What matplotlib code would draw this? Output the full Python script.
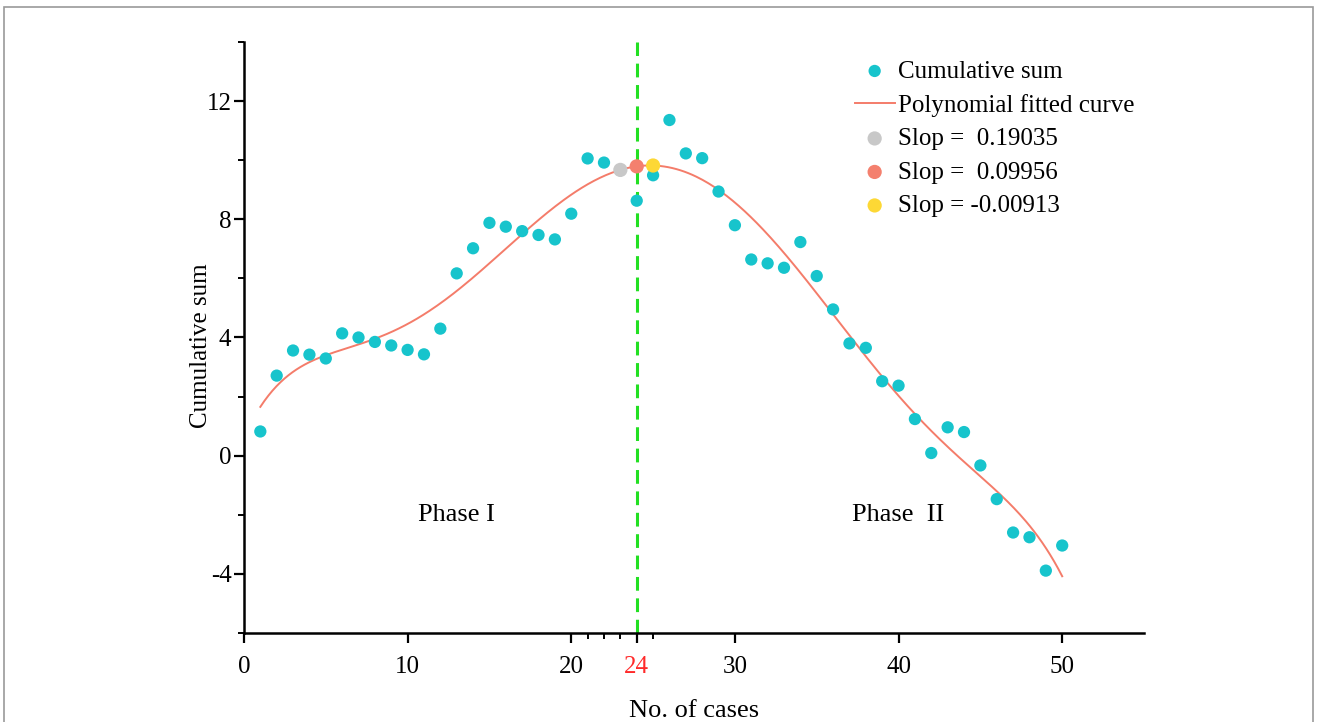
import numpy as np
import matplotlib
matplotlib.use("Agg")
import matplotlib.pyplot as plt
from matplotlib.ticker import FixedLocator, MultipleLocator
from matplotlib.patches import Rectangle

cases = list(range(1, 51))
cusum = [0.82, 2.71, 3.56, 3.42, 3.29, 4.14, 4.00, 3.85, 3.73, 3.58,
         3.43, 4.30, 6.17, 7.02, 7.88, 7.75, 7.60, 7.47, 7.32, 8.19,
         10.06, 9.92, 9.66, 8.63, 9.49, 11.36, 10.23, 10.07, 8.94, 7.80,
         6.64, 6.51, 6.36, 7.23, 6.08, 4.95, 3.80, 3.65, 2.52, 2.37,
         1.24, 0.09, 0.96, 0.80, -0.33, -1.47, -2.60, -2.76, -3.89, -3.04]
slope_cases = [23, 24, 25]
slope_labels = ["Slop =  0.19035", "Slop =  0.09956", "Slop = -0.00913"]
slope_colors = ["#c8c8c8", "#f4806e", "#fdd835"]
xticks = [0, 10, 20, 24, 30, 40, 50]
xminor = [21, 22, 23, 25]
yticks = [-4, 0, 4, 8, 12]
DEG = 6

plt.rcParams['font.family'] = ['Liberation Serif', 'DejaVu Serif']
plt.rcParams['axes.unicode_minus'] = False
fig = plt.figure(figsize=(13.18, 7.22), dpi=100)
ax = fig.add_axes([0.1851, 0.1233, 0.868 - 0.1851, 0.9418 - 0.1233])

x = np.array(cases, float)
y = np.array(cusum, float)

coef = np.polyfit(x, y, DEG)
xf = np.linspace(1, 50, 400)
ax.plot(xf, np.polyval(coef, xf), color="#f47c6a", lw=1.4, zorder=2,
        label="Polynomial fitted curve")
ax.scatter(x, y, s=78, color="#17c4cc", edgecolors='none', zorder=3,
           label="Cumulative sum")
for sc, lab, col in zip(slope_cases, slope_labels, slope_colors):
    ax.scatter([sc], [np.polyval(coef, sc)], s=105, color=col,
               edgecolors='none', zorder=4, label=lab)

ax.axvline(24, color="#22e022", lw=2.2, linestyle=(0, (4.5, 2.5)), zorder=1)

ax.set_xlim(0, 55)
ax.set_ylim(-6, 14)
ax.xaxis.set_major_locator(FixedLocator(xticks))
ax.xaxis.set_minor_locator(FixedLocator(xminor))
ax.yaxis.set_major_locator(FixedLocator(yticks))
ax.yaxis.set_minor_locator(MultipleLocator(2))
ax.set_xticklabels([str(t) for t in xticks])
for lab, t in zip(ax.get_xticklabels(), xticks):
    if t == 24:
        lab.set_color("#ff2a2a")
ax.tick_params(which='major', direction='out', length=7, width=1.6, labelsize=18)
ax.tick_params(axis='x', which='major', pad=9.5)
ax.tick_params(axis='y', which='major', pad=2)
ax.tick_params(which='minor', direction='out', length=4, width=1.4)
for s in ['top', 'right']:
    ax.spines[s].set_visible(False)
for s in ['left', 'bottom']:
    ax.spines[s].set_linewidth(1.8)

ax.set_xlabel("No. of cases", fontsize=19, labelpad=16)
ax.set_ylabel("Cumulative sum", fontsize=18)
ax.yaxis.set_label_coords(-0.036, 0.486)

ax.text(13, -2, "Phase I", fontsize=19, ha='center', va='center')
ax.text(40, -2, "Phase  II", fontsize=19, ha='center', va='center')

h, l = ax.get_legend_handles_labels()
order = [1, 0, 2, 3, 4]
leg = ax.legend([h[i] for i in order], [l[i] for i in order],
                loc='upper left', bbox_to_anchor=(0.6585, 1.0), frameon=False,
                fontsize=18, handlelength=1.6, handletextpad=0.12,
                labelspacing=0.44, borderaxespad=0.32)

fig.add_artist(Rectangle((4 / 1318, -0.05), 1309 / 1318, 1.05 - 7 / 722,
                         transform=fig.transFigure, fill=False,
                         edgecolor="#9a9a9a", lw=1.2))
fig.savefig("out.png", dpi=100)
